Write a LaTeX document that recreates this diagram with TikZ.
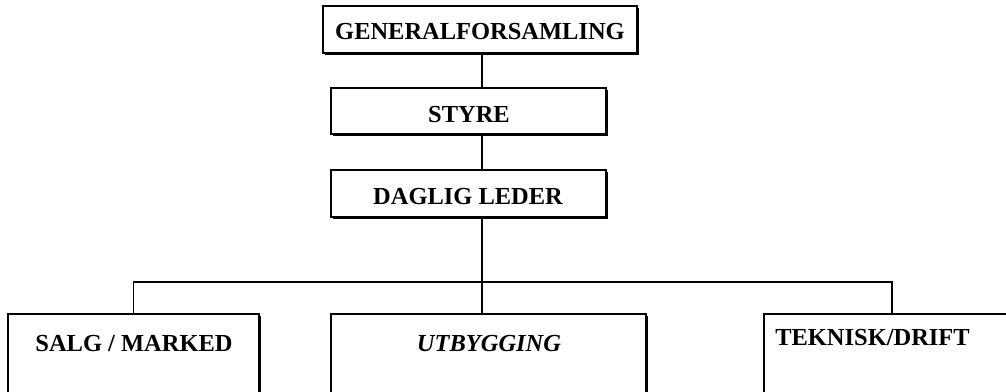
\documentclass[tikz,border=0pt]{standalone}
\usepackage{fontspec}
\setmainfont{Liberation Serif}
\usepackage{tikz}
\usetikzlibrary{calc,shadows}
\tikzset{
   unit node/.style={rectangle,draw,line width=0.8pt,fill=white,inner sep=0pt,
                     drop shadow={shadow xshift=0.05cm,shadow yshift=-0.05cm,fill=black,opacity=1}},
   unit text/.style={inner sep=0pt,font=\fontsize{17.4}{20}\selectfont\bfseries},
   org line/.style={line width=0.8pt}
}
\begin{document}
\begin{tikzpicture}[x=0.025cm,y=-0.025cm]
\useasboundingbox (0,0) rectangle (1006,392);
\coordinate (spine) at (482,282);
\coordinate (tekdrop) at (892,314);

% top levels
\node[unit node, minimum width=7.85cm, minimum height=1.175cm] (gf) at (480,29.5) {};
\node[unit text] (gftext) at (480,32) {GENERALFORSAMLING};
\node[unit node, minimum width=6.875cm, minimum height=1.15cm] (styre) at (468.5,111) {};
\node[unit text] (styretext) at (469,115) {STYRE};
\node[unit node, minimum width=6.875cm, minimum height=1.175cm] (dl) at (468.5,193.5) {};
\node[unit text] (dltext) at (468,197) {DAGLIG LEDER};

% departments
\node[unit node, minimum width=6.275cm, minimum height=2.65cm] (salg) at (133.5,367) {};
\node[unit text] (salgtext) at (134,344) {SALG / MARKED};
\node[unit node, minimum width=7.875cm, minimum height=2.65cm] (utb) at (488.5,367) {};
\node[unit text, font=\fontsize{17.4}{20}\selectfont\bfseries\itshape] (utbtext) at (489,344) {UTBYGGING};
\node[unit node, minimum width=8cm, minimum height=2.65cm] (tek) at (924,367) {};
\node[unit text, anchor=west] (tektext) at (775,338) {TEKNISK/DRIFT};

\draw[org line] (spine |- gf.south) -- (spine |- styre.north);
\draw[org line] (spine |- styre.south) -- (spine |- dl.north);
\draw[org line] (spine |- dl.south) -- (spine |- utb.north);
\draw[org line] (salg.north) |- (spine) -| (tekdrop);
\end{tikzpicture}
\end{document}
